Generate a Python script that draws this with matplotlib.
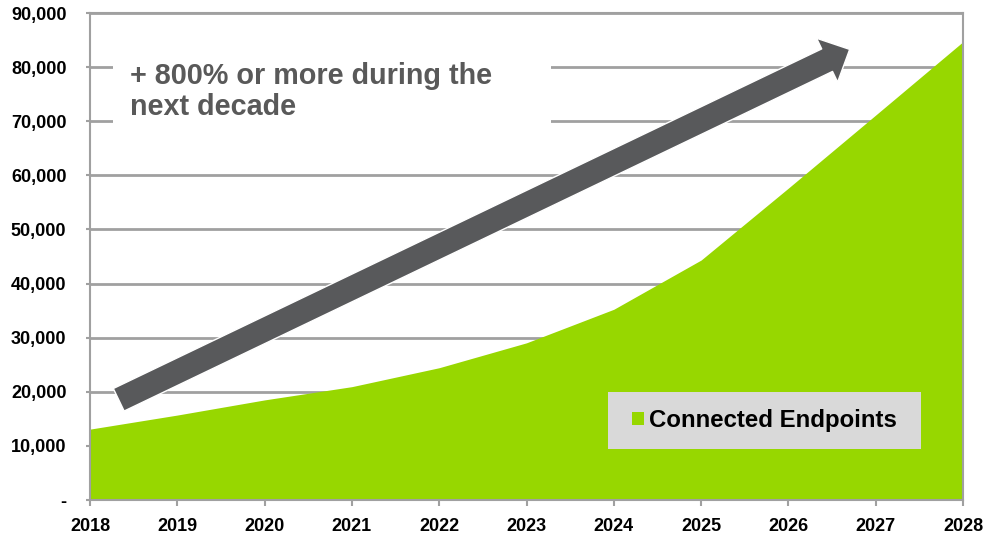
import matplotlib
matplotlib.use("Agg")
import matplotlib.pyplot as plt
from matplotlib.patches import FancyArrowPatch, Rectangle
from matplotlib.ticker import FuncFormatter

# Connected endpoints per year
years = [2018, 2019, 2020, 2021, 2022, 2023, 2024, 2025, 2026, 2027, 2028]
endpoints = [13100, 15700, 18500, 20950, 24450, 29050, 35250, 44350, 57650, 71150, 84700]
y_ticks = [0, 10000, 20000, 30000, 40000, 50000, 60000, 70000, 80000, 90000]
series_label = "Connected Endpoints"
callout = "+ 800% or more during the\nnext decade"

GREEN = "#97D700"
GRID = "#A0A0A0"
DARK = "#58595B"

plt.rcParams["font.family"] = ["Liberation Sans", "DejaVu Sans"]

fig = plt.figure(figsize=(9.85, 5.35), dpi=100)
ax = fig.add_axes([0.0914, 0.0654, 0.8863, 0.9103])

ax.fill_between(years, endpoints, 0, color=GREEN, lw=0, zorder=2, label=series_label)

ax.set_xlim(years[0], years[-1])
ax.set_ylim(0, 90000)
ax.set_xticks(years)
ax.set_yticks(y_ticks)
ax.yaxis.set_major_formatter(FuncFormatter(lambda v, p: "-" if v == 0 else f"{int(v):,}"))

ax.grid(axis="y", color=GRID, lw=2, zorder=1)
ax.set_axisbelow(True)
for s in ax.spines.values():
    s.set_color(GRID)
    s.set_linewidth(1.5)
    s.set_zorder(3)

ax.tick_params(axis="x", length=4, width=1.5, color=GRID, pad=9)
ax.tick_params(axis="y", length=3, width=1.5, color=GRID, pad=14)
for lab in ax.get_xticklabels() + ax.get_yticklabels():
    lab.set_fontsize(13)
    lab.set_fontweight("bold")
    lab.set_color("black")

# white box behind the callout (hides the gridlines there)
ax.add_patch(Rectangle((0.026, 0.76), 0.502, 0.174, transform=ax.transAxes,
                       facecolor="white", edgecolor="none", zorder=1.5))
ax.text(0.046, 0.899, callout, transform=ax.transAxes, fontsize=20.7,
        fontweight="bold", color="#595959", va="top", ha="left",
        linespacing=1.12, zorder=4)

# growth arrow
arrow = FancyArrowPatch((2018.30, 18300), (2026.73, 83500),
                        arrowstyle="simple,head_length=18,head_width=35,tail_width=18",
                        mutation_scale=1, facecolor=DARK, edgecolor="white",
                        lw=1, zorder=5)
ax.add_patch(arrow)

# legend on a grey panel
ax.add_patch(Rectangle((0.593, 0.105), 0.359, 0.117, transform=ax.transAxes,
                       facecolor="#D9D9D9", edgecolor="none", zorder=4))
leg = ax.legend(loc="center", bbox_to_anchor=(0.7726, 0.1632), frameon=False,
                prop={"size": 17.3, "weight": "bold"}, handlelength=0.5,
                handleheight=0.5, handletextpad=0.2)
leg.set_zorder(6)

fig.savefig("out.png", dpi=100)
